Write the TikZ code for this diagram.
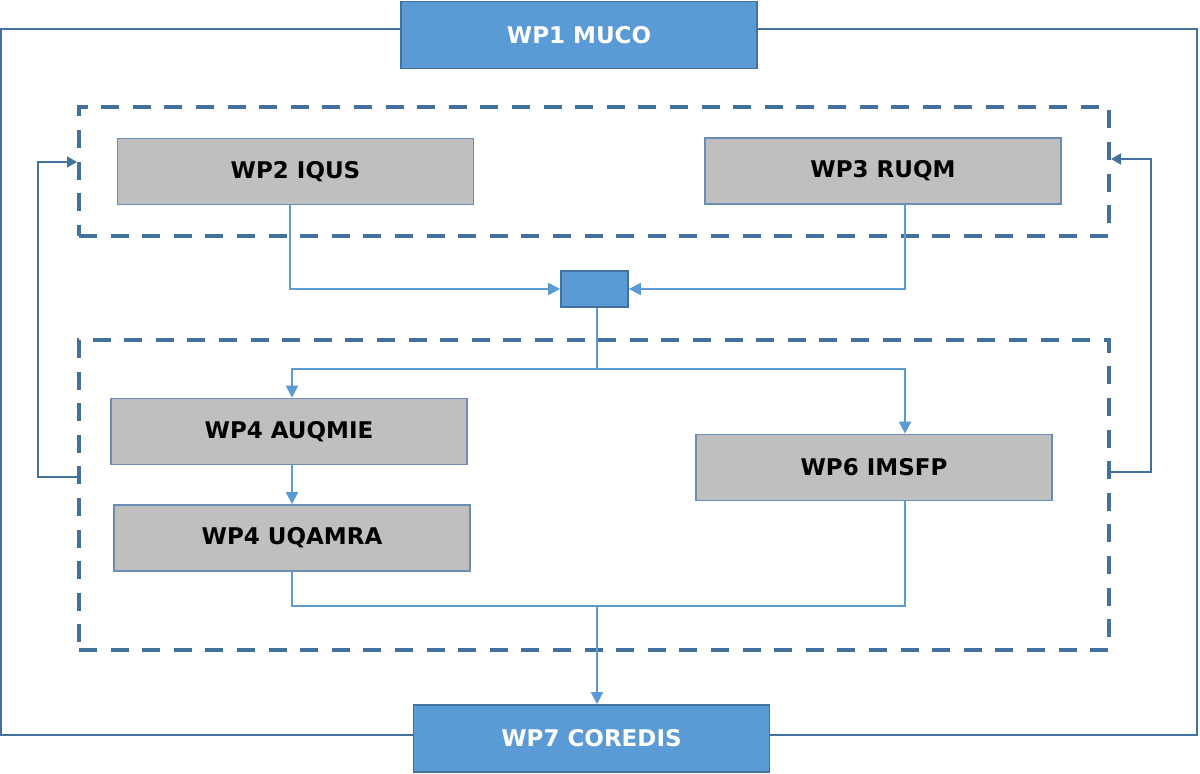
\documentclass[tikz,border=0pt]{standalone}
\usepackage{fontspec}
\setmainfont{DejaVu Sans}
\usepackage{tikz}
\usetikzlibrary{positioning,arrows.meta}
\definecolor{wpblue}{HTML}{5B9BD5}
\definecolor{wpdark}{HTML}{41719C}
\definecolor{wpgray}{HTML}{BFBFBF}
\definecolor{wpedge}{HTML}{6A8DB5}
\tikzset {
main/.style={shape=rectangle,draw=wpdark,line width=0.8pt,fill=wpblue,text=white,
  minimum width=178pt,minimum height=33.5pt,font=\bfseries\fontsize{11.5}{13}\selectfont},
task/.style={shape=rectangle,draw=wpedge,line width=0.8pt,fill=wpgray,text=black,
  minimum width=178pt,minimum height=33pt,font=\bfseries\fontsize{11.5}{13}\selectfont},
group/.style={shape=rectangle,draw=wpdark,line width=2pt,dash pattern=on 9pt off 6.8pt,
  minimum width=515pt},
link/.style={draw=wpblue,line width=1pt},
back/.style={draw=wpdark,line width=0.9pt}
}
\begin{document}
\begin{tikzpicture}
[x=0.5pt,y=-0.5pt,>={Triangle[length=6pt,width=6pt]}]
\useasboundingbox (0,0) rectangle (1200,774);
% outer frame
\draw[back,line width=0.8pt] (1,29) rectangle (1197,735);
% groups
\node[group,minimum height=64.5pt] (grpA) at (594,171.5) {};
\node[group,minimum height=155pt] (grpB) at (594,495) {};
% work packages
\node[main] (muco) at (579,35) {WP1 MUCO};
\node[main] (coredis) at (591.5,738.5) {WP7 COREDIS};
\node[task] (iqus) at (295.5,171.5) {WP2 IQUS};
\node[task] (ruqm) at (883,171) {WP3 RUQM};
\node[main,minimum width=33.5pt,minimum height=18pt] (hub) at (594.5,289) {};
\node[task] (auqmie) at (289,431.5) {WP4 AUQMIE};
\node[task] (uqamra) at (292,538) {WP4 UQAMRA};
\node[task] (imsfp) at (874,467.5) {WP6 IMSFP};
% taps and junctions
\coordinate (ltap) at (292,0);
\coordinate (rtap) at (905,0);
\coordinate (split) at (597,369);
\coordinate (merge) at (597,606);
\coordinate (lout) at (38,477);
\coordinate (lin) at (38,162);
\coordinate (rout) at (1151,472);
\coordinate (rin) at (1151,159);

\draw[link,->] (iqus.south -| 290,0) |- (hub.west);
\draw[link,->] (ruqm.south -| rtap) |- (hub.east);
\draw[link,->] (hub.south -| split) |- (split -| ltap) -- (auqmie.north -| ltap);
\draw[link,->] (split) -| (imsfp.north -| rtap);
\draw[link,->] (auqmie.south -| ltap) -- (uqamra.north -| ltap);
\draw[link] (uqamra.south -| ltap) |- (merge -| rtap) -- (imsfp.south -| rtap);
\draw[link,->] (merge) -- (coredis.north -| merge);
\draw[back,->,>={Triangle[length=5pt,width=5.5pt]}] (grpB.west |- lout) -- (lout) -- (lin) -- (grpA.west |- lin);
\draw[back,->,>={Triangle[length=5pt,width=5.5pt]}] (grpB.east |- rout) -- (rout) -- (rin) -- (grpA.east |- rin);
\end{tikzpicture}
\end{document}
